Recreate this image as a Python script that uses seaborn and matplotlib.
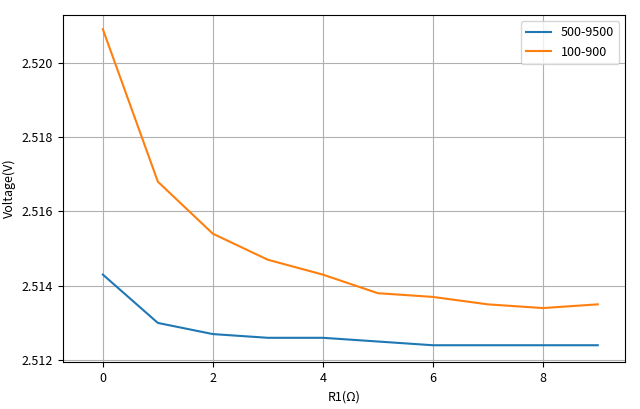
import matplotlib
matplotlib.use("Agg")
import matplotlib.pyplot as plt
import seaborn as sns
import pandas as pd

x = list(range(10))
s1 = [2.5143, 2.5130, 2.5127, 2.5126, 2.5126, 2.5125, 2.5124, 2.5124, 2.5124, 2.5124]
s2 = [2.5209, 2.5168, 2.5154, 2.5147, 2.5143, 2.5138, 2.5137, 2.5135, 2.5134, 2.5135]
labels = ["500-9500", "100-900"]

plt.rcParams['font.family'] = ['Noto Sans CJK SC', 'DejaVu Sans']
fig, ax = plt.subplots(figsize=(6.4, 4.09), dpi=100)
df = pd.DataFrame({"x": x * 2, "y": s1 + s2, "s": [labels[0]] * 10 + [labels[1]] * 10})
sns.lineplot(data=df, x="x", y="y", hue="s", palette=["#1f77b4", "#ff7f0e"], ax=ax)
ax.grid(True, color="#b0b0b0")
ax.set_ylim(2.51195, 2.52128)
ax.set_xlim(-0.73, 9.5)
ax.set_yticks([2.512, 2.514, 2.516, 2.518, 2.520])
ax.set_yticklabels(["2.512", "2.514", "2.516", "2.518", "2.520"])
ax.set_xlabel("R1(Ω)", fontsize=9)
ax.set_ylabel("Voltage(V)", fontsize=9)
ax.tick_params(labelsize=9)
ax.legend(title=None, loc="upper right", fontsize=9)
fig.subplots_adjust(left=0.098, right=0.977, top=0.963, bottom=0.115)
fig.savefig("out.png")
